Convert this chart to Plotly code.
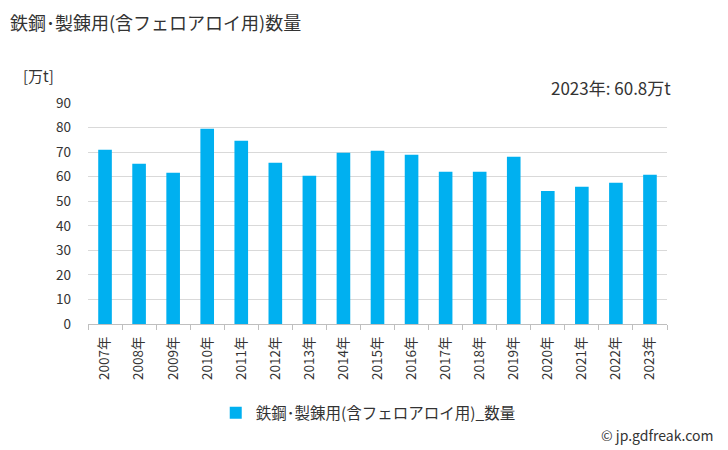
import plotly.graph_objects as go

years = [f"{y}年" for y in range(2007, 2024)]
values = [71.0, 65.3, 61.6, 79.5, 74.6, 65.7, 60.4, 69.7, 70.6,
          68.9, 62.0, 62.0, 68.1, 54.2, 55.9, 57.5, 60.8]
series_name = "鉄鋼･製錬用(含フェロアロイ用)_数量"
title_text = "鉄鋼･製錬用(含フェロアロイ用)数量"
unit_label = "[万t]"
latest_note = "2023年: 60.8万t"
credit = "© jp.gdfreak.com"

FONT = "Noto Sans CJK JP, Noto Sans, sans-serif"
TEXT = "#333333"

fig = go.Figure()
fig.add_trace(
    go.Bar(
        x=years,
        y=values,
        name=series_name,
        marker={"color": "#00b0f0", "line": {"width": 0}},
        showlegend=True,
    )
)

# the page body adds an 8px offset, so margins are shifted to compensate
fig.update_layout(
    width=728,
    height=450,
    margin={"l": 80, "r": 69, "t": 95, "b": 134},
    plot_bgcolor="white",
    paper_bgcolor="white",
    font={"family": FONT, "color": TEXT, "size": 13},
    bargap=0.6,
    showlegend=True,
    legend={
        "orientation": "h",
        "x": 0.484,
        "xanchor": "center",
        "y": -0.403,
        "yanchor": "middle",
        "font": {"size": 15.5, "color": TEXT},
    },
)

fig.add_annotation(text=title_text, xref="paper", yref="paper",
                   x=0, y=1, xanchor="left", yanchor="middle",
                   xshift=-80, yshift=81, showarrow=False,
                   font={"size": 18, "color": TEXT})
fig.add_annotation(text=unit_label, xref="paper", yref="paper",
                   x=0, y=1, xanchor="left", yanchor="middle",
                   xshift=-67, yshift=28, showarrow=False,
                   font={"size": 15, "color": TEXT})
fig.add_annotation(text=latest_note, xref="paper", yref="paper",
                   x=1, y=1, xanchor="right", yanchor="middle",
                   xshift=6, yshift=16, showarrow=False,
                   font={"size": 17, "color": TEXT})
fig.add_annotation(text=credit, xref="paper", yref="paper",
                   x=1, y=0, xanchor="right", yanchor="middle",
                   xshift=49, yshift=-111, showarrow=False,
                   font={"size": 14, "color": TEXT})

fig.update_xaxes(
    tickangle=-90,
    tickfont={"size": 13.5},
    ticklabelstandoff=6,
    showline=True,
    linecolor="#bfbfbf",
    ticks="outside",
    ticklen=5,
    tickcolor="#bfbfbf",
    tickson="boundaries",
    showgrid=False,
)
fig.update_yaxes(
    range=[0, 90],
    dtick=10,
    tickfont={"size": 13.5},
    ticklabelstandoff=16,
    showgrid=True,
    gridcolor="#d9d9d9",
    zeroline=False,
    showline=False,
    ticks="",
)

fig.write_html("out.html")
